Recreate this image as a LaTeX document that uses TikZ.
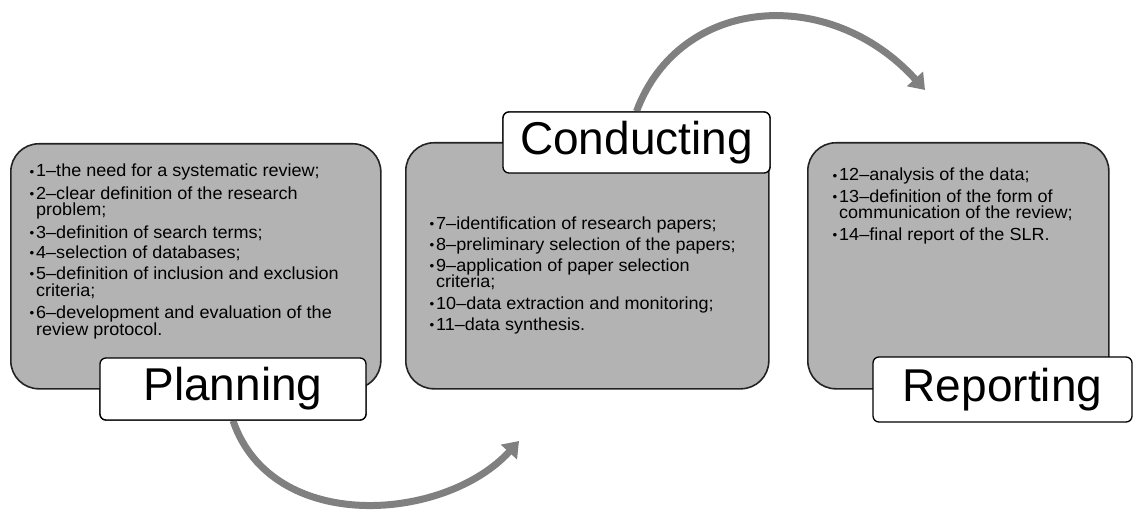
\documentclass[tikz,border=0pt]{standalone}
\usepackage{fontspec}
\setmainfont{Liberation Sans}
\newfontfamily\itemfont[FakeStretch=1.03]{Liberation Sans}
\usetikzlibrary{arrows.meta}
\definecolor{boxgray}{RGB}{179,179,179}
\definecolor{arrowgray}{RGB}{128,128,128}
\definecolor{edgegray}{RGB}{35,35,35}
\newcommand{\bul}{\llap{\raisebox{0.8pt}{\fontsize{13}{13}\selectfont\textbullet}\hspace{1.8pt}}}
\begin{document}
\begin{tikzpicture}[x=1pt,y=-1pt,
  stage/.style={draw=edgegray, line width=1.6pt, fill=boxgray, rounded corners=28pt, anchor=north west, inner sep=0pt},
  tag/.style={draw=black, line width=1.3pt, fill=white, rounded corners=6pt, inner sep=0pt, font=\fontsize{46}{50}\selectfont},
  item/.style={anchor=base west, inner sep=0pt, font=\itemfont\fontsize{17.5}{18}\selectfont},
  flow/.style={draw=arrowgray, line width=7pt, -{Triangle[width=21pt,length=15pt]}}]
\useasboundingbox (0,0) rectangle (1134,513);

% arrows (behind boxes)
\node[tag, minimum width=266pt, minimum height=62pt] (ptag) at (233,389) {};
\node[tag, minimum width=267pt, minimum height=61pt] (ctag) at (636.5,142.5) {};
\coordinate (lowend) at (519,441);
\coordinate (upend) at (925,90);
\draw[flow] (ptag.south) .. controls (272,535) and (445,522) .. (lowend);
\draw[flow] (ctag.north) .. controls (680,-5) and (830,-15) .. (upend);

% stage boxes
\node[stage, minimum width=370pt, minimum height=245pt] (plan) at (10,143) {};
\node[stage, minimum width=363pt, minimum height=246pt] (cond) at (405,142) {};
\node[stage, minimum width=301pt, minimum height=246pt] (rep) at (807,142) {};

% planning items
\foreach \n/\y/\t in {p1/177/{\bul 1–the need for a systematic review;},
  p2/199/{\bul 2–clear definition of the research},
  p2b/215.5/{problem;},
  p3/238.5/{\bul 3–definition of search terms;},
  p4/258.5/{\bul 4–selection of databases;},
  p5/279.5/{\bul 5–definition of inclusion and exclusion},
  p5b/296/{criteria;},
  p6/318.5/{\bul 6–development and evaluation of the},
  p6b/335/{review protocol.}}
  \node[item] (\n) at (36,\y) {\t};

% conducting items
\foreach \n/\y/\t in {c7/229/{\bul 7–identification of research papers;},
  c8/250.5/{\bul 8–preliminary selection of the papers;},
  c9/271/{\bul 9–application of paper selection},
  c9b/287/{criteria;},
  c10/309/{\bul 10–data extraction and monitoring;},
  c11/330/{\bul 11–data synthesis.}}
  \node[item] (\n) at (436,\y) {\t};

% reporting items
\foreach \n/\y/\t in {r12/181/{\bul 12–analysis of the data;},
  r13/202.5/{\bul 13–definition of the form of},
  r13b/218/{communication of the review;},
  r14/240.5/{\bul 14–final report of the SLR.}}
  \node[item] (\n) at (839,\y) {\t};

% tags
\node[tag, minimum width=266pt, minimum height=62pt] (ptagtext) at (233,389) {Planning};
\node[tag, minimum width=267pt, minimum height=61pt] (ctagtext) at (636.5,142.5) {Conducting};
\node[tag, minimum width=259pt, minimum height=65pt] (rtag) at (1002.5,389.5) {Reporting};
\end{tikzpicture}
\end{document}
